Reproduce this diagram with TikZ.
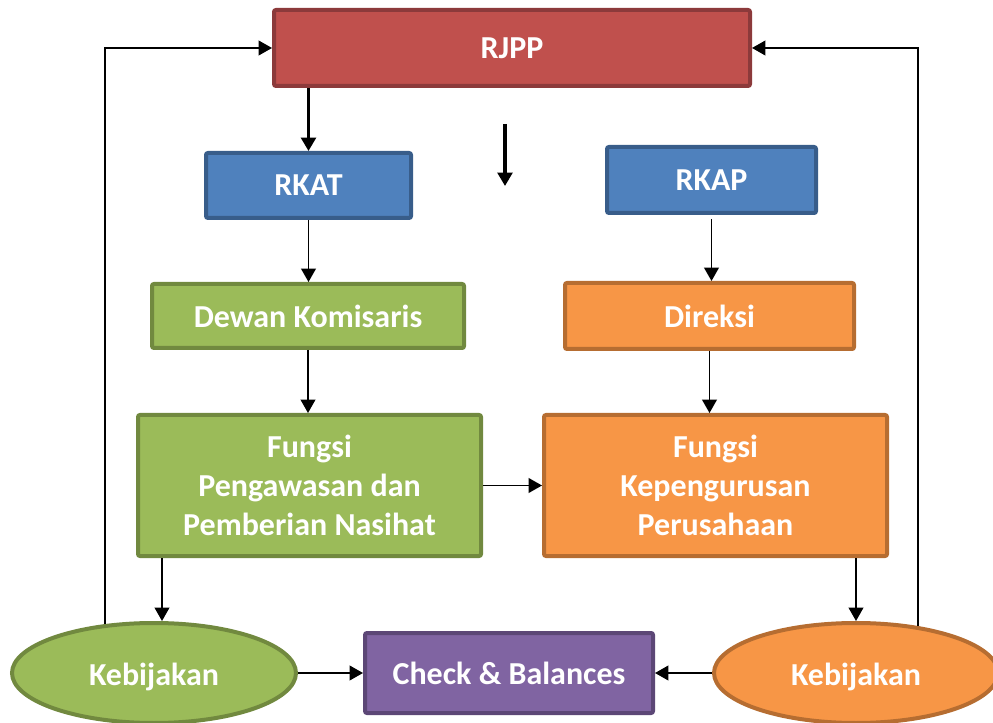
\documentclass[tikz,border=0pt]{standalone}
\usepackage{fontspec}
\setmainfont{Carlito}
\usetikzlibrary{arrows.meta,shapes.geometric}
\definecolor{redF}{HTML}{C0504D}\definecolor{redB}{HTML}{8C3A3B}
\definecolor{bluF}{HTML}{4F81BD}\definecolor{bluB}{HTML}{385D8A}
\definecolor{grnF}{HTML}{9BBB59}\definecolor{grnB}{HTML}{71893F}
\definecolor{orgF}{HTML}{F79646}\definecolor{orgB}{HTML}{B66D31}
\definecolor{purF}{HTML}{8064A2}\definecolor{purB}{HTML}{5C4776}
\tikzset{
  box/.style={rectangle, rounded corners=1.5pt, line width=3pt, inner sep=0pt,
    text=white, font=\fontsize{24}{29}\selectfont\bfseries, align=center},
  oval/.style={ellipse, line width=3pt, inner sep=0pt,
    text=white, font=\fontsize{24}{29}\selectfont\bfseries, align=center,
    text height=24pt, text depth=5pt,
    minimum width=213pt, minimum height=75pt},
  arr/.style={line width=1.3pt, -{Triangle[length=10pt,width=11pt]}},
  tarr/.style={line width=2.4pt, -{Triangle[length=10pt,width=11pt]}},
}
\begin{document}
\begin{tikzpicture}[x=0.75pt,y=-0.75pt]
\useasboundingbox (0,0) rectangle (993,723);
\clip (0,0) rectangle (993,723);
\node[box, fill=redF, draw=redB, minimum width=357pt, minimum height=57pt] (rjpp) at (512,48) {RJPP};
\node[box, fill=bluF, draw=bluB, minimum width=153.75pt, minimum height=48.75pt] (rkat) at (308.5,185.5) {RKAT};
\node[box, fill=bluF, draw=bluB, minimum width=156.75pt, minimum height=49.5pt] (rkap) at (711.5,180) {RKAP};
\node[box, fill=grnF, draw=grnB, minimum width=234pt, minimum height=48pt] (dewan) at (308,316) {Dewan Komisaris};
\node[box, fill=orgF, draw=orgB, minimum width=216.75pt, minimum height=49.5pt] (direksi) at (709.5,316) {Direksi};
\node[box, fill=grnF, draw=grnB, minimum width=257.25pt, minimum height=105.75pt] (peng) at (309.5,485.5) {Fungsi\\Pengawasan dan\\Pemberian Nasihat};
\node[box, fill=orgF, draw=orgB, minimum width=257.25pt, minimum height=105.75pt] (kep) at (715.5,485.5) {Fungsi\\Kepengurusan\\Perusahaan};
\node[box, fill=purF, draw=purB, minimum width=216pt, minimum height=60pt] (check) at (509,673) {Check \& Balances};
\node[oval, fill=grnF, draw=grnB] (lk) at (154,673) {Kebijakan};
\node[oval, fill=orgF, draw=orgB] (rk) at (856,673) {Kebijakan};
\coordinate (sa) at (505,124);
\coordinate (sb) at (505,186);
% connectors
\draw[tarr] (rjpp.south -| rkat.north) -- (rkat.north);
\draw[tarr] (sa) -- (sb);
\draw[arr] (rkat.south) -- (rkat.south |- dewan.north);
\draw[arr] ([yshift=-3pt]rkap.south) -- (rkap.south |- direksi.north);
\draw[arr] (dewan.south) -- (dewan.south |- peng.north);
\draw[arr] (direksi.south) -- (direksi.south |- kep.north);
\draw[arr] (peng.east) -- (kep.west);
\draw[arr] ([xshift=6pt]lk.north |- peng.south) -- ([xshift=6pt]lk.north);
\draw[arr] (rk.north |- kep.south) -- (rk.north);
\draw[arr] (lk.east) -- (check.west);
\draw[arr] (rk.west) -- (check.east);
\draw[arr] (lk.135) |- (rjpp.west);
\draw[arr] (rk.37) |- (rjpp.east);
\end{tikzpicture}
\end{document}
